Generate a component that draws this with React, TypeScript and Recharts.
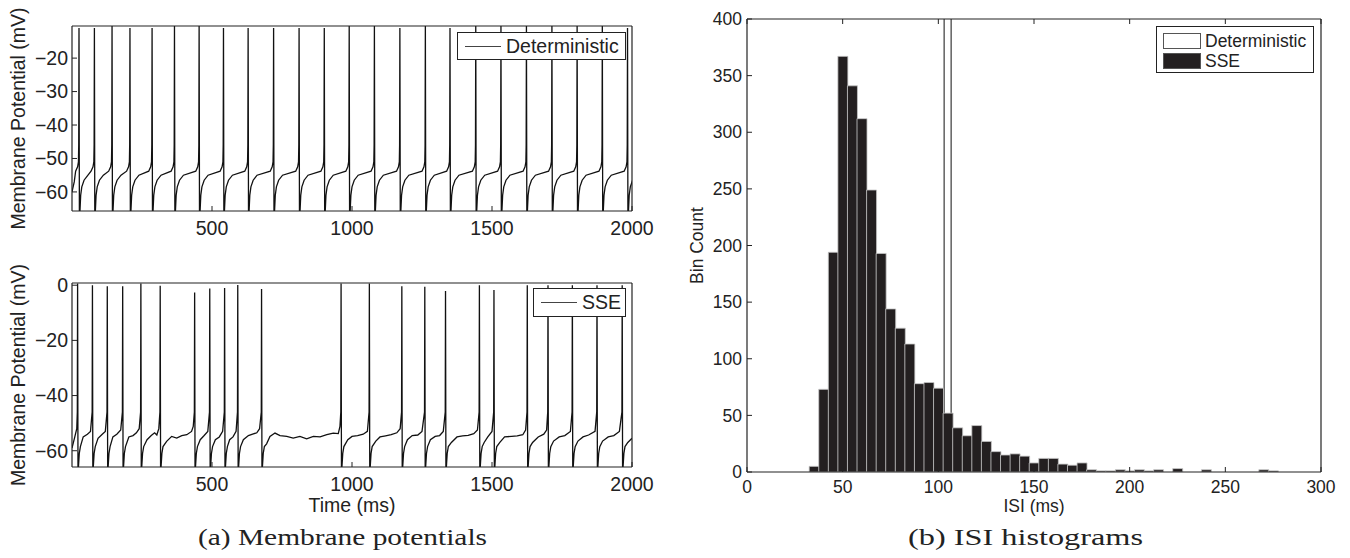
import React from 'react';
import { LineChart, Line, BarChart, Bar, XAxis, YAxis, Legend } from 'recharts';

const SANS = '"Liberation Sans", Arial, Helvetica, sans-serif';
const SERIF = '"Liberation Serif", "Times New Roman", serif';
const INK = '#222';

type Pt = [number, number];

// ---- panel (a), top: deterministic trace ----
const detSpikeTimes = [25, 80, 143, 207, 286, 366, 454, 541, 629, 720, 811, 901, 990, 1080, 1171, 1262, 1350, 1442, 1532, 1623, 1714, 1804, 1894, 1984];
const detSpikePeaks = [-11, -11, -10, -11, -11, -10, -10, -11, -11, -11, -11, -11, -10, -10, -11, -10, -11, -10, -10, -10, -10, -10, -10, -11];
const detAfterSpike: Pt[] = [[1.5, -72], [3, -66.5], [6, -61], [10, -58.5], [18, -56.5], [32, -55]];
const detBeforeSpike: Pt[] = [[-12, -53.8], [-5, -52.5], [-2, -51], [-1, -46]];
const detLead: Pt[] = [[0, -60], [8, -57]];

// ---- panel (a), bottom: SSE trace ----
const sseSpikeTimes = [20, 73, 126, 181, 246, 315, 438, 492, 545, 592, 677, 961, 1062, 1178, 1260, 1334, 1455, 1507, 1626, 1700, 1787, 1875, 1965];
const sseSpikePeaks = [0.6, 0, -0.4, -0.4, 0.6, -0.2, -2.6, -1.2, -1, 0.1, -1.4, 0.6, 0.6, -0.4, -0.6, -2.1, 0, -1.7, 0, 0, 0, 0, 0];
const sseAfterSpike: Pt[] = [[1.5, -72], [3, -66], [6, -61], [10, -58.5]];
const sseBeforeSpike: Pt[] = [[-1, -46]];
// sub-threshold wander between spikes
const ssePlateau: Pt[] = [
  [0, -59], [10, -55], [17, -52],
  [40, -55], [55, -54], [66, -53],
  [93, -55.5], [108, -54], [119, -53],
  [146, -55], [160, -54], [174, -52.5],
  [203, -55], [218, -54.5], [230, -53.5], [240, -52],
  [268, -56], [283, -54.5], [295, -53.5], [303, -54.3], [310, -52],
  [338, -56.6], [356, -54.8], [374, -55.4], [392, -54.5], [410, -54.2], [427, -53], [433, -51.2],
  [458, -56], [472, -54.5], [485, -53],
  [512, -56], [526, -55], [538, -53],
  [563, -56], [575, -55], [586, -53],
  [612, -56], [630, -54.5], [645, -54], [660, -53.5], [670, -52],
  [695, -57.5], [707, -54.8], [725, -53.6], [743, -54.5], [767, -54.8], [790, -55.4], [814, -54.8],
  [838, -55.7], [862, -54.8], [886, -55], [910, -54.2], [933, -53.6], [951, -53.8], [957, -51.2],
  [985, -56], [1000, -54.8], [1020, -54.5], [1040, -54], [1055, -53],
  [1085, -56.5], [1100, -55], [1120, -54.6], [1140, -54.2], [1160, -53.5], [1172, -52],
  [1198, -56], [1215, -54.5], [1235, -54.3], [1250, -53],
  [1280, -56], [1297, -54.8], [1313, -54.5], [1326, -53],
  [1355, -57], [1375, -55], [1395, -54.6], [1415, -54.4], [1435, -53.8], [1448, -52.5],
  [1472, -57], [1485, -55], [1500, -53],
  [1528, -57], [1545, -55], [1570, -54.8], [1590, -54.6], [1610, -54.2], [1620, -52.5],
  [1645, -57], [1665, -55], [1685, -54], [1695, -52.5],
  [1720, -56.5], [1740, -55], [1760, -54.5], [1780, -53],
  [1807, -56.5], [1825, -55], [1845, -54.3], [1868, -53],
  [1895, -56.5], [1915, -55], [1935, -54.5], [1955, -53],
  [1985, -57], [2000, -55.5],
];

const timeTicks = [500, 1000, 1500, 2000];
const detVTicks = [-60, -50, -40, -30, -20];
const sseVTicks = [-60, -40, -20, 0];

// ---- panel (b): ISI histogram, 5 ms bins starting at 0 ----
const isiBinWidth = 5;
const sseCounts = [
  0, 0, 0, 0, 0, 0, 0, 5, 73, 194, 367, 341, 312, 249, 193, 144, 127, 113, 78, 79, 74,
  52, 39, 32, 41, 27, 18, 15, 16, 14, 8, 12, 12, 7, 6, 8, 2, 1, 1, 2, 1, 2, 1, 2, 0,
  3, 0, 0, 2, 0, 0, 0, 0, 0, 2, 1, 0, 0, 0, 0, 0,
];
const detBin = 105;
const detCount = 1000; // runs off the top of the axes
const isiTicks = [0, 50, 100, 150, 200, 250, 300];
const countTicks = [0, 50, 100, 150, 200, 250, 300, 350, 400];

function buildTrace(spikes: number[], peaks: number[], after: Pt[], before: Pt[], extra: Pt[]) {
  const pts: Pt[] = [...extra];
  spikes.forEach((s, i) => {
    before.forEach(([dt, v]) => pts.push([s + dt, v]));
    pts.push([s, peaks[i]]);
    after.forEach(([dt, v]) => pts.push([s + dt, v]));
  });
  return pts.sort((a, b) => a[0] - b[0]).map(([t, v]) => ({ t, v }));
}

const detData = buildTrace(detSpikeTimes, detSpikePeaks, detAfterSpike, detBeforeSpike, detLead);
const sseData = buildTrace(sseSpikeTimes, sseSpikePeaks, sseAfterSpike, sseBeforeSpike, ssePlateau);
const isiData = sseCounts.map((c, i) => {
  const x = i * isiBinWidth;
  return { x, sse: c, det: x === detBin ? detCount : null };
});

const axisLine = { stroke: INK, strokeWidth: 1.2 };
const TICK = 5; // matlab style inward ticks

const minus = (v: number) => String(v).replace('-', '\u2212');

// tick renderers: tickSize is 0, so the axis line sits tickMargin away from the label anchor
const bottomTick = (margin: number, size: number) => (p: any) => {
  const ay = p.y - margin;
  return (
    <g>
      <line x1={p.x} x2={p.x} y1={ay} y2={ay - TICK} stroke={INK} strokeWidth={1} />
      <text x={p.x} y={p.y} dy="0.71em" textAnchor="middle" style={{ fontFamily: SANS, fontSize: size, fill: INK }}>
        {minus(p.payload.value)}
      </text>
    </g>
  );
};
const leftTick = (margin: number, size: number) => (p: any) => {
  const ax = p.x + margin;
  return (
    <g>
      <line x1={ax} x2={ax + TICK} y1={p.y} y2={p.y} stroke={INK} strokeWidth={1} />
      <text x={p.x} y={p.y} dy="0.355em" textAnchor="end" style={{ fontFamily: SANS, fontSize: size, fill: INK }}>
        {minus(p.payload.value)}
      </text>
    </g>
  );
};
const topTick = (p: any) => <line x1={p.x} x2={p.x} y1={p.y} y2={p.y + TICK} stroke={INK} strokeWidth={1} />;
const rightTick = (p: any) => <line x1={p.x} x2={p.x - TICK} y1={p.y} y2={p.y} stroke={INK} strokeWidth={1} />;

const yTitle = (text: string, cx: number, size: number) => (p: any) => {
  const vb = p.viewBox;
  const cy = vb.y + vb.height / 2;
  return (
    <text x={cx} y={cy} transform={`rotate(-90, ${cx}, ${cy})`} textAnchor="middle" dominantBaseline="central"
      style={{ fontFamily: SANS, fontSize: size, fill: INK }}>{text}</text>
  );
};

const xTitle = (text: string, cy: number, size: number) => (p: any) => {
  const vb = p.viewBox;
  return (
    <text x={vb.x + vb.width / 2} y={cy} textAnchor="middle" dominantBaseline="central"
      style={{ fontFamily: SANS, fontSize: size, fill: INK }}>{text}</text>
  );
};

const lineLegend = (w: number, h: number) => (p: any) => (
  <div style={{
    width: w, height: h, boxSizing: 'border-box', border: `1.2px solid ${INK}`, background: '#fff',
    display: 'flex', alignItems: 'center', fontFamily: SANS, fontSize: 19.5, color: INK, whiteSpace: 'nowrap',
  }}>
    <span style={{ display: 'inline-block', width: 36, height: 0, borderTop: '1px solid #444', margin: '0 5px 0 7px' }} />
    {p.payload && p.payload[0] ? p.payload[0].value : ''}
  </div>
);

const histLegend = (p: any) => (
  <div style={{
    width: 158, height: 47, boxSizing: 'border-box', border: `1.2px solid ${INK}`, background: '#fff',
    fontFamily: SANS, fontSize: 17.5, color: INK, padding: '4px 0 0 6px',
  }}>
    {(p.payload || []).map((e: any) => (
      <div key={e.value} style={{ display: 'flex', alignItems: 'center', height: 20, whiteSpace: 'nowrap' }}>
        <span style={{
          display: 'inline-block', width: 38, height: 16, boxSizing: 'border-box', marginRight: 4,
          background: e.value === 'SSE' ? '#231f20' : '#fff', border: '1px solid #555',
        }} />
        {e.value}
      </div>
    ))}
  </div>
);

function TracePanel(props: {
  data: { t: number; v: number }[]; name: string; yDomain: [number, number]; yTicks: number[];
  top: number; height: number; marginTop: number; marginBottom: number;
  legendLeft: number; legendTop: number; legendW: number; legendH: number; showTime: boolean;
}) {
  const { data, name, yDomain, yTicks, top, height, marginTop, marginBottom } = props;
  return (
    <div style={{ position: 'absolute', left: 0, top }}>
      <LineChart width={660} height={height} data={data}
        margin={{ top: marginTop, right: 27, bottom: marginBottom, left: 12 }}>
        <XAxis dataKey="t" type="number" domain={[0, 2000]} ticks={timeTicks} interval={0} allowDataOverflow
          height={30} tickSize={0} tickMargin={10} axisLine={axisLine} tickLine={false}
          tick={bottomTick(10, 19.5)}
          label={props.showTime ? xTitle('Time (ms)', 255, 19.5) : undefined} />
        <XAxis xAxisId="top" orientation="top" type="number" domain={[0, 2000]} ticks={timeTicks} interval={0}
          height={1} tickSize={0} tickMargin={0} tick={topTick} axisLine={axisLine} tickLine={false} />
        <YAxis type="number" domain={yDomain} ticks={yTicks} interval={0} allowDataOverflow width={60}
          tickSize={0} tickMargin={4} axisLine={axisLine} tickLine={false}
          tick={leftTick(4, 19.5)}
          label={yTitle('Membrane Potential (mV)', 18, 19.5)} />
        <YAxis yAxisId="r" orientation="right" type="number" domain={yDomain} ticks={yTicks} interval={0}
          width={1} tickSize={0} tickMargin={0} tick={rightTick} axisLine={axisLine} tickLine={false} />
        <Legend layout="vertical" align="center" verticalAlign="middle"
          wrapperStyle={{ left: props.legendLeft, top: props.legendTop, width: props.legendW, height: props.legendH }}
          content={lineLegend(props.legendW, props.legendH)} />
        <Line dataKey="v" name={name} type="linear" stroke="#111" strokeWidth={1.3} dot={false}
          isAnimationActive={false} />
      </LineChart>
    </div>
  );
}

export default function App() {
  return (
    <div style={{ position: 'absolute', left: 0, top: 0, width: 1350, height: 558, background: '#fff', overflow: 'hidden' }}>
      <TracePanel data={detData} name="Deterministic" yDomain={[-65.7, -10.4]} yTicks={detVTicks}
        top={0} height={250} marginTop={25} marginBottom={9}
        legendLeft={457} legendTop={32} legendW={169} legendH={28} showTime={false} />
      <TracePanel data={sseData} name="SSE" yDomain={[-65.9, 0.8]} yTicks={sseVTicks}
        top={250} height={270} marginTop={32} marginBottom={23}
        legendLeft={533} legendTop={38} legendW={93} legendH={29} showTime />

      <div style={{ position: 'absolute', left: 660, top: 0 }}>
        <BarChart width={690} height={520} data={isiData} barCategoryGap={0} barGap={0}
          margin={{ top: 18, right: 28, bottom: 8, left: 27 }}>
          <XAxis dataKey="x" type="number" domain={[0, 300]} ticks={isiTicks} interval={0} allowDataOverflow
            height={40} tickSize={0} tickMargin={9} axisLine={axisLine} tickLine={false}
            tick={bottomTick(9, 17.5)}
            label={xTitle('ISI (ms)', 506, 17.5)} />
          <XAxis xAxisId="top" dataKey="x" orientation="top" type="number" domain={[0, 300]} ticks={isiTicks}
            interval={0} allowDataOverflow height={1} tickSize={0} tickMargin={0} tick={topTick}
            axisLine={axisLine} tickLine={false} />
          <YAxis type="number" domain={[0, 400]} ticks={countTicks} interval={0} allowDataOverflow width={60}
            tickSize={0} tickMargin={5} axisLine={axisLine} tickLine={false}
            tick={leftTick(5, 17.5)}
            label={yTitle('Bin Count', 37, 17.5)} />
          <YAxis yAxisId="r" orientation="right" type="number" domain={[0, 400]} ticks={countTicks} interval={0}
            width={1} tickSize={0} tickMargin={0} tick={rightTick} axisLine={axisLine} tickLine={false} />
          <Legend layout="vertical" align="center" verticalAlign="middle"
            wrapperStyle={{ left: 496, top: 26, width: 158, height: 47 }} content={histLegend} />
          <Bar dataKey="det" name="Deterministic" xAxisId="top" barSize={7} fill="#fff" stroke="#111"
            strokeWidth={1} isAnimationActive={false} />
          <Bar dataKey="sse" name="SSE" fill="#231f20" stroke="#c8c8c8" strokeWidth={0.8}
            isAnimationActive={false} />
        </BarChart>
      </div>

      <svg width={1350} height={558} style={{ position: 'absolute', left: 0, top: 0, pointerEvents: 'none' }}>
        <text x={198} y={545} textLength={289} lengthAdjust="spacingAndGlyphs"
          style={{ fontFamily: SERIF, fontSize: 24, fill: INK }}>(a) Membrane potentials</text>
        <text x={908} y={545} textLength={235} lengthAdjust="spacingAndGlyphs"
          style={{ fontFamily: SERIF, fontSize: 24, fill: INK }}>(b) ISI histograms</text>
      </svg>
    </div>
  );
}
